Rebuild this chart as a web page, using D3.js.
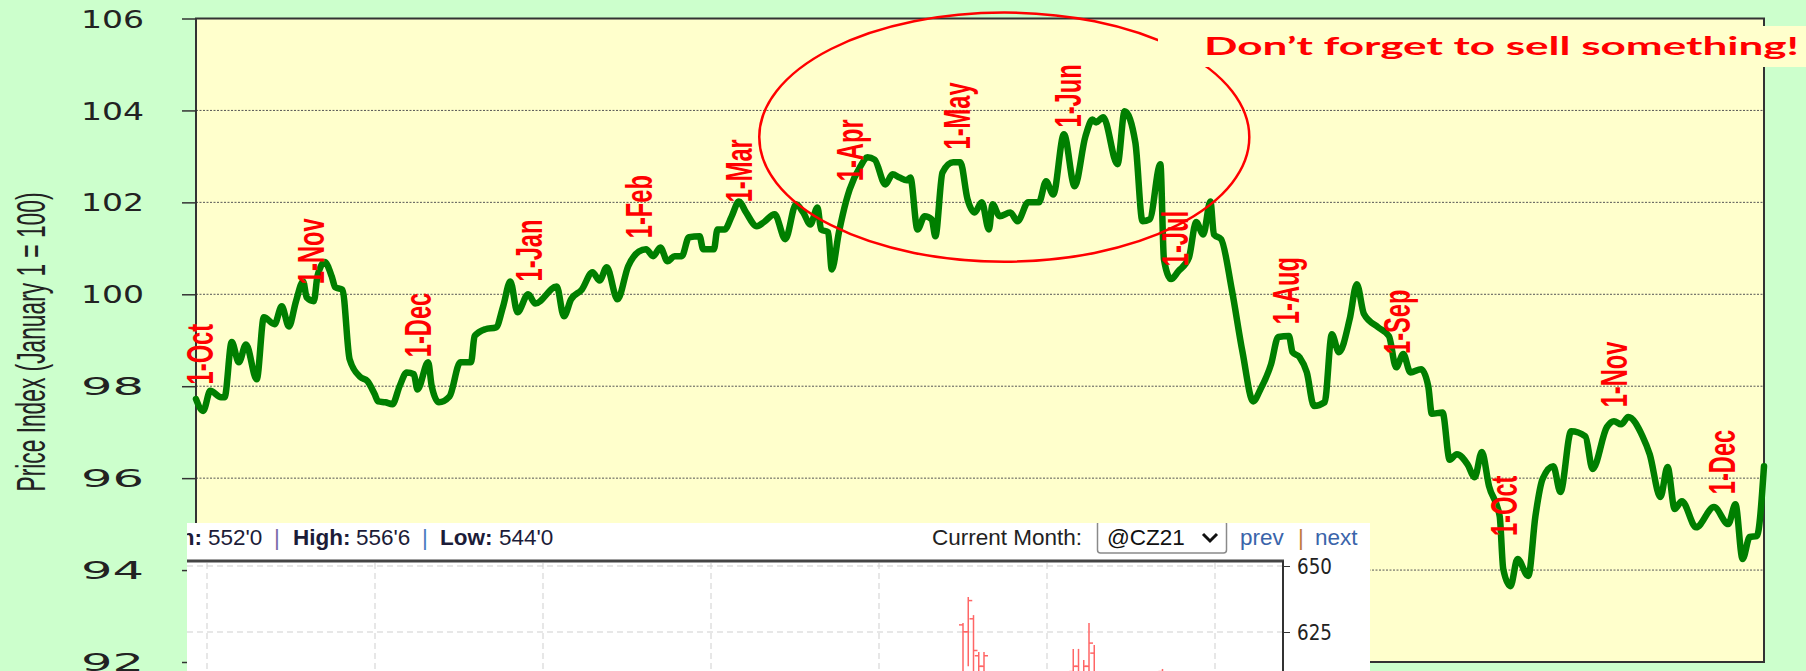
<!DOCTYPE html>
<html>
<head>
<meta charset="utf-8">
<script src="https://cdn.jsdelivr.net/npm/d3@7"></script>
<style>
  body { margin: 0; background: #ccffcc; overflow: hidden; }
  svg { display: block; }
</style>
</head>
<body>
<script>
// price index, days counted from 1-Oct of the first year
const days = [0, 2, 4, 7, 8, 10, 12, 14, 17, 19, 22, 24, 26, 28, 30, 31, 33, 34, 36, 38, 39, 41, 43, 46, 48, 50, 51, 53, 55, 57,
  59, 61, 62, 65, 66, 68, 71, 74, 77, 78, 81, 84, 86, 88, 90, 93, 95, 101, 103, 105, 108, 111, 113, 115, 118, 121, 124, 126, 128, 130,
  132, 134, 136, 138, 141, 142, 145, 146, 148, 150, 152, 154, 157, 159, 162, 165, 168, 170, 172, 174, 175, 177, 178, 180, 182, 183, 186, 188, 190, 193,
  195, 197, 199, 200, 202, 204, 206, 207, 209, 212, 214, 216, 218, 220, 222, 223, 225, 228, 230, 233, 236, 238, 240, 243, 246, 249, 251, 252, 254, 258,
  260, 263, 265, 267, 270, 271, 273, 275, 278, 280, 282, 284, 285, 287, 290, 293, 296, 298, 301, 303, 306, 307, 309, 311, 313, 316, 318, 320, 323, 325,
  327, 331, 334, 336, 338, 340, 343, 345, 346, 349, 351, 353, 356, 358, 360, 362, 365, 366, 368, 370, 373, 375, 377, 380, 382, 385, 389, 391, 395, 397,
  399, 401, 405, 407, 410, 412, 414, 416, 420, 425, 429, 431, 433, 435, 437, 439];
const index = [97.72, 97.46, 97.9, 97.76, 97.76, 98.96, 98.52, 98.91, 98.15, 99.5, 99.35, 99.74, 99.3, 99.85, 100.28, 99.93, 99.85, 100.39, 100.7, 100.39, 100.15, 100.1, 98.59, 98.2, 98.11, 97.83, 97.67, 97.65, 97.61, 98.0,
  98.3, 98.26, 97.93, 98.52, 98.0, 97.65, 97.78, 98.52, 98.52, 99.09, 99.24, 99.28, 99.74, 100.28, 99.61, 100.0, 99.8, 100.17, 99.52, 99.89, 100.1, 100.48, 100.3, 100.59, 99.89, 100.61, 100.93, 100.98, 100.83, 101.02,
  100.72, 100.83, 100.83, 101.24, 101.26, 100.98, 100.98, 101.41, 101.41, 101.7, 102.02, 101.78, 101.48, 101.57, 101.74, 101.2, 101.96, 101.78, 101.52, 101.89, 101.41, 101.35, 100.54, 101.35, 102.02, 102.28, 102.78, 102.98, 102.93, 102.39,
  102.61, 102.54, 102.48, 102.54, 101.41, 101.7, 101.63, 101.26, 102.65, 102.87, 102.87, 102.07, 101.78, 102.0, 101.41, 101.96, 101.7, 101.78, 101.59, 102.0, 102.0, 102.46, 102.17, 103.48, 102.35, 103.43, 103.8, 103.74, 103.85, 102.83,
  103.98, 103.3, 101.59, 101.63, 102.83, 100.76, 100.33, 100.5, 100.8, 101.57, 101.3, 102.02, 101.3, 101.2, 100.1, 98.74, 97.67, 97.93, 98.48, 99.07, 99.09, 98.74, 98.63, 98.3, 97.57, 97.65, 99.13, 98.74, 99.46, 100.22,
  99.57, 99.28, 99.09, 98.41, 98.7, 98.3, 98.37, 98.0, 97.4, 97.43, 96.4, 96.52, 96.3, 96.02, 96.57, 95.83, 95.17, 94.02, 93.65, 94.24, 93.87, 95.17, 95.98, 96.26, 95.7, 97.02, 96.91, 96.2, 97.11, 97.24,
  97.17, 97.33, 96.91, 96.52, 95.59, 96.24, 95.33, 95.5, 94.93, 95.37, 95.0, 95.43, 94.24, 94.72, 94.74, 96.26];

const yTicks = [92, 94, 96, 98, 100, 102, 104, 106];
const gridValues = [94, 96, 98, 100, 102, 104];

const monthLabels = ["1-Oct", "1-Nov", "1-Dec", "1-Jan", "1-Feb", "1-Mar", "1-Apr", "1-May", "1-Jun",
  "1-Jul", "1-Aug", "1-Sep", "1-Oct", "1-Nov", "1-Dec"];
const monthDays = [0, 31, 61, 92, 123, 151, 182, 212, 243, 273, 304, 335, 365, 396, 426];
const labelLevels = [98.04, 100.22, 98.63, 100.28, 101.22, 102.0, 102.46, 103.15, 103.63, 100.61, 99.35, 98.7, 94.74, 97.54, 95.65];

// "sell" ellipse annotation, in data units
const ringCenter = [226.3, 103.42];
const ringRadius = [68.6, 2.71];
const callout = "Don\u2019t forget to sell something!";

// pasted futures chart (inset)
const insetGridDays = [0, 32, 64, 96, 128, 160, 192];
const insetTicks = [650, 625];
const barDays = [144, 145, 146, 147, 148, 165, 166, 167, 168, 169, 182];
const barHigh = [628.4, 638.3, 631.4, 617.4, 617.4, 618.6, 618.6, 614.4, 628.4, 620.1, 611];
const barLow = [600, 612, 605, 600, 598, 600, 605, 602, 606, 603, 600];
const barOpen = [627.7, 625.1, 630, 616, 612, 610, 612, 608, 612, 617, 610];
const barClose = [625.1, 636.9, 618, 612, 616, 612, 608, 612, 620.8, 606, 605];

const W = 1806, H = 671;
const plot = {left: 196, right: 1764, top: 18.5, bottom: 662};

const svg = d3.select("body").append("svg")
    .attr("width", W)
    .attr("height", H);

svg.append("rect").attr("width", W).attr("height", H).attr("fill", "#ccffcc");

const x = d3.scaleLinear().domain([0, 439]).range([plot.left, plot.right]);
const y = d3.scaleLinear().domain([92, 106]).range([plot.bottom, plot.top]);

// plot background
svg.append("rect")
    .attr("x", plot.left).attr("y", plot.top)
    .attr("width", plot.right - plot.left).attr("height", plot.bottom - plot.top)
    .attr("fill", "#ffffcc");

// gridlines
svg.append("g").selectAll("line")
    .data(gridValues)
    .join("line")
    .attr("x1", plot.left).attr("x2", plot.right)
    .attr("y1", d => y(d)).attr("y2", d => y(d))
    .attr("stroke", "#555")
    .attr("stroke-width", 1)
    .attr("stroke-dasharray", "2,1.5");

// frame
svg.append("rect")
    .attr("x", plot.left).attr("y", plot.top)
    .attr("width", plot.right - plot.left).attr("height", plot.bottom - plot.top)
    .attr("fill", "none")
    .attr("stroke", "#333")
    .attr("stroke-width", 2);

// y axis
const yAxis = svg.append("g")
    .attr("transform", `translate(${plot.left},0)`)
    .call(d3.axisLeft(y).tickValues(yTicks).tickSize(14).tickPadding(38));
yAxis.select(".domain").remove();
yAxis.selectAll(".tick line").attr("stroke", "#333").attr("stroke-width", 1.5);
yAxis.selectAll(".tick text")
    .attr("font-family", "DejaVu Sans")
    .attr("font-size", 24)
    .attr("fill", "#222")
    .attr("dy", "0.36em")
    .attr("textLength", 63)
    .attr("lengthAdjust", "spacingAndGlyphs");

svg.append("text")
    .attr("transform", "translate(45,342) rotate(-90)")
    .attr("text-anchor", "middle")
    .attr("font-family", "Liberation Sans")
    .attr("font-size", 41)
    .attr("fill", "#222")
    .attr("textLength", 299)
    .attr("lengthAdjust", "spacingAndGlyphs")
    .text("Price Index (January 1 = 100)");

// the index line
const series = days.map((d, i) => [d, index[i]]);
svg.append("path")
    .datum(series)
    .attr("fill", "none")
    .attr("stroke", "#007f00")
    .attr("stroke-width", 6.5)
    .attr("stroke-linejoin", "round")
    .attr("stroke-linecap", "round")
    .attr("d", d3.line().x(d => x(d[0])).y(d => y(d[1])).curve(d3.curveMonotoneX));

// month markers
svg.append("g").selectAll("text")
    .data(monthLabels)
    .join("text")
    .attr("transform", (d, i) => `translate(${x(monthDays[i]) + 17},${y(labelLevels[i])}) rotate(-90)`)
    .attr("font-family", "Liberation Sans")
    .attr("font-weight", "bold")
    .attr("font-size", 37)
    .attr("fill", "#ff0000")
    .text(d => d)
    .each(function() {
        const w = this.getComputedTextLength();
        d3.select(this).attr("textLength", w * 0.64).attr("lengthAdjust", "spacingAndGlyphs");
    });

// ellipse + callout
svg.append("ellipse")
    .attr("cx", x(ringCenter[0]))
    .attr("cy", y(ringCenter[1]))
    .attr("rx", x(ringCenter[0] + ringRadius[0]) - x(ringCenter[0]))
    .attr("ry", y(ringCenter[1] - ringRadius[1]) - y(ringCenter[1]))
    .attr("fill", "none")
    .attr("stroke", "#ff0000")
    .attr("stroke-width", 2.5);

svg.append("rect")
    .attr("x", 1158).attr("y", 26)
    .attr("width", W - 1158).attr("height", 41)
    .attr("fill", "#ffffcc");
svg.append("text")
    .attr("x", 1204).attr("y", 55)
    .attr("font-family", "Lato")
    .attr("font-weight", "bold")
    .attr("font-size", 24)
    .attr("fill", "#ff0000")
    .attr("textLength", 595)
    .attr("lengthAdjust", "spacingAndGlyphs")
    .text(callout);

// ---- inset: pasted price chart ----
const inset = {left: 187, top: 523, right: 1370, bottom: H, frameTop: 561, frameRight: 1283};
svg.append("clipPath").attr("id", "insetClip")
    .append("rect")
    .attr("x", inset.left).attr("y", inset.top)
    .attr("width", inset.right - inset.left).attr("height", inset.bottom - inset.top);

const ig = svg.append("g").attr("clip-path", "url(#insetClip)");
ig.append("rect")
    .attr("x", inset.left).attr("y", inset.top)
    .attr("width", inset.right - inset.left).attr("height", inset.bottom - inset.top)
    .attr("fill", "#fff");

const ix = d3.scaleLinear().domain([0, 192]).range([207, 1215]);
const iy = d3.scaleLinear().domain([625, 650]).range([632, 566]);

// month selector box (drawn before the header text)
ig.append("rect")
    .attr("x", 1097.5).attr("y", 521).attr("width", 129).attr("height", 32).attr("rx", 3)
    .attr("fill", "#fff").attr("stroke", "#8a8a8a").attr("stroke-width", 1.5);
ig.append("polyline")
    .attr("points", "1203,534 1210,541 1217,534")
    .attr("fill", "none").attr("stroke", "#111").attr("stroke-width", 3);

// header line
const hdr = ig.append("g")
    .attr("font-family", "Liberation Sans")
    .attr("font-size", 22.5)
    .attr("fill", "#1c1c38");
hdr.append("text").attr("x", 202).attr("y", 545).attr("text-anchor", "end").attr("font-weight", "bold").text("Open:");
hdr.append("text").attr("x", 208).attr("y", 545).text("552'0");
hdr.append("text").attr("x", 274).attr("y", 545).attr("fill", "#7a6aa8").text("|");
hdr.append("text").attr("x", 293).attr("y", 545).attr("font-weight", "bold").text("High:");
hdr.append("text").attr("x", 356).attr("y", 545).text("556'6");
hdr.append("text").attr("x", 422).attr("y", 545).attr("fill", "#4a7ac0").text("|");
hdr.append("text").attr("x", 440).attr("y", 545).attr("font-weight", "bold").text("Low:");
hdr.append("text").attr("x", 499).attr("y", 545).text("544'0");
hdr.append("text").attr("x", 1082).attr("y", 545).attr("text-anchor", "end").attr("fill", "#222").text("Current Month:");
hdr.append("text").attr("x", 1107).attr("y", 545).attr("fill", "#111").text("@CZ21");
hdr.append("text").attr("x", 1240).attr("y", 545).attr("fill", "#3a64aa").text("prev");
hdr.append("text").attr("x", 1298).attr("y", 545).attr("fill", "#c07a3a").text("|");
hdr.append("text").attr("x", 1315).attr("y", 545).attr("fill", "#3a64aa").text("next");

// inset grid
ig.append("g").selectAll("line")
    .data(insetTicks)
    .join("line")
    .attr("x1", inset.left).attr("x2", inset.frameRight)
    .attr("y1", d => iy(d)).attr("y2", d => iy(d))
    .attr("stroke", "#cfcfcf").attr("stroke-dasharray", "6,4");
ig.append("g").selectAll("line")
    .data(insetGridDays)
    .join("line")
    .attr("x1", d => ix(d)).attr("x2", d => ix(d))
    .attr("y1", inset.frameTop + 2).attr("y2", inset.bottom)
    .attr("stroke", "#cfcfcf").attr("stroke-dasharray", "6,4");

// OHLC bars
const bars = ig.append("g").attr("stroke", "#ff6666").attr("stroke-width", 1.5);
barDays.forEach((d, i) => {
    const bx = ix(d);
    bars.append("line").attr("x1", bx).attr("x2", bx).attr("y1", iy(barHigh[i])).attr("y2", iy(barLow[i]));
    bars.append("line").attr("x1", bx - 4).attr("x2", bx).attr("y1", iy(barOpen[i])).attr("y2", iy(barOpen[i]));
    bars.append("line").attr("x1", bx).attr("x2", bx + 4).attr("y1", iy(barClose[i])).attr("y2", iy(barClose[i]));
});

// inset frame + right axis
ig.append("line")
    .attr("x1", inset.left).attr("x2", inset.frameRight + 1)
    .attr("y1", inset.frameTop).attr("y2", inset.frameTop)
    .attr("stroke", "#444").attr("stroke-width", 3);
ig.append("line")
    .attr("x1", inset.frameRight).attr("x2", inset.frameRight)
    .attr("y1", inset.frameTop).attr("y2", inset.bottom)
    .attr("stroke", "#333").attr("stroke-width", 2);
const iAxis = ig.append("g")
    .attr("transform", `translate(${inset.frameRight},0)`)
    .call(d3.axisRight(iy).tickValues(insetTicks).tickSize(7).tickPadding(7));
iAxis.select(".domain").remove();
iAxis.selectAll(".tick line").attr("stroke", "#333");
iAxis.selectAll(".tick text")
    .attr("font-family", "DejaVu Sans")
    .attr("font-size", 22)
    .attr("fill", "#222")
    .attr("textLength", 35)
    .attr("lengthAdjust", "spacingAndGlyphs");
</script>
</body>
</html>
